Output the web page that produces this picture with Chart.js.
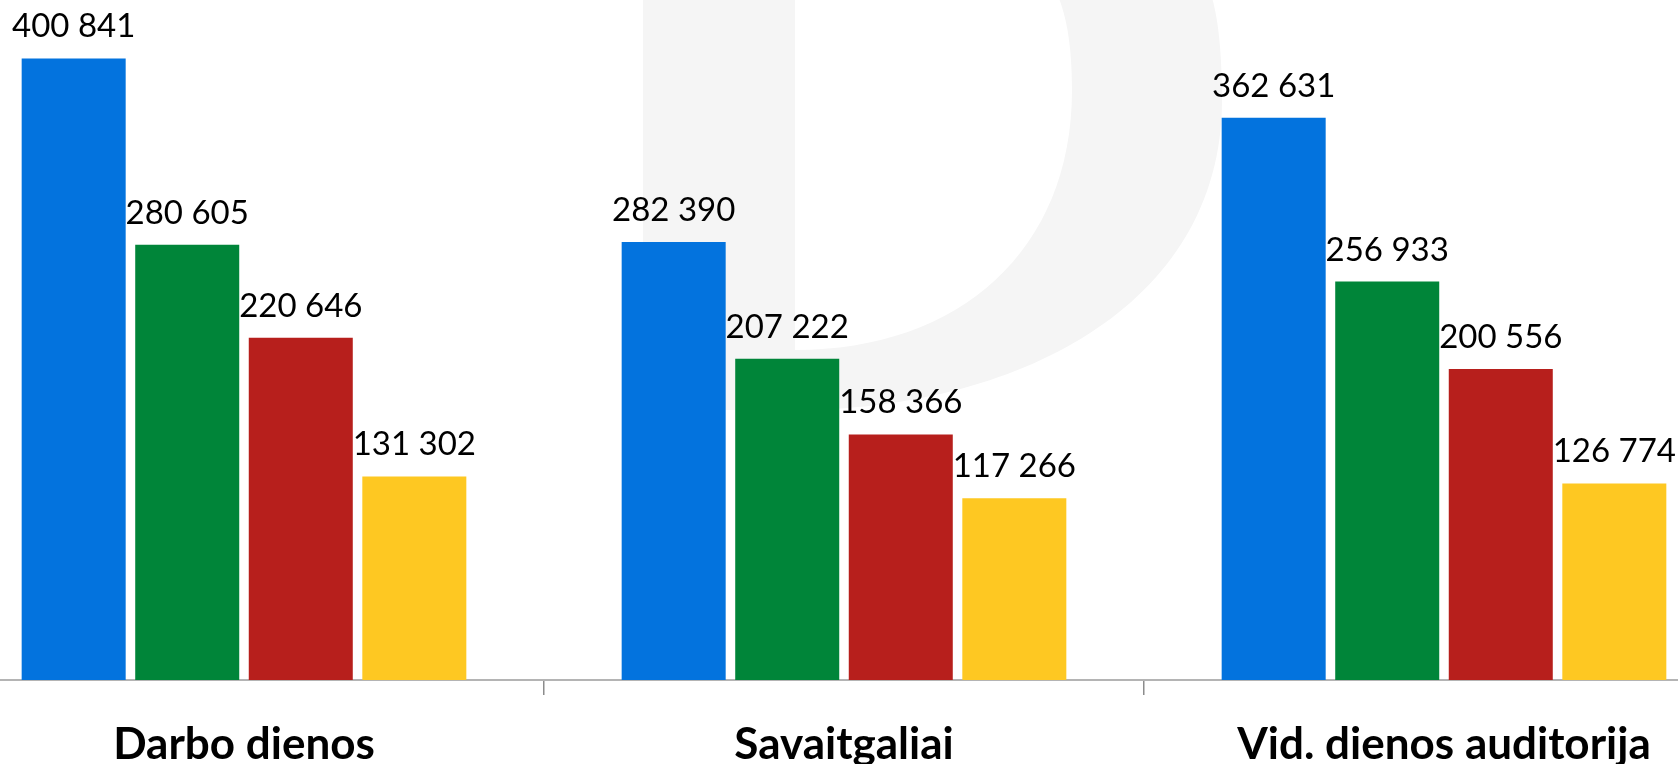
<!DOCTYPE html>
<html>
<head>
<meta charset="utf-8">
<title>Auditorija</title>
<script src="https://cdn.jsdelivr.net/npm/chart.js@4/dist/chart.umd.min.js"></script>
<style>
html, body { margin: 0; padding: 0; background: #fff; overflow: hidden; }
#wrap { position: absolute; left: -56px; top: 0; width: 1800px; height: 764px; }
</style>
</head>
<body>
<div id="wrap"><canvas id="chart"></canvas></div>
<script>
/* Categories and the four series. */

const categories = ['Darbo dienos', 'Savaitgaliai', 'Vid. dienos auditorija'];
const seriesBlue = [400841, 282390, 362631];
const seriesGreen = [280605, 207222, 256933];
const seriesRed = [220646, 158366, 200556];
const seriesYellow = [131302, 117266, 126774];
const seriesColours = ['#0373de', '#008539', '#b71f1c', '#fec822'];

/* Shift of the canvas against the page, see #wrap. */
const shiftX = 56;

function fmt(v)
{
	return String(v).replace(/\B(?=(\d{3})+(?!\d))/g, ' ');
}

/**
 * Faint "D" logo drawn behind the bars.
 */
const watermark = {
	id: 'watermark',
	beforeDatasetsDraw(chart) {
		const ctx = chart.ctx;
		ctx.save();
		ctx.translate(shiftX, 0);
		ctx.beginPath();
		/* Outer edge. */
		ctx.moveTo(643, -20);
		ctx.lineTo(643, 410);
		ctx.lineTo(795, 410);
		ctx.bezierCurveTo(1010, 410, 1222, 310, 1222, 100);
		ctx.bezierCurveTo(1222, 40, 1216, 0, 1205, -20);
		ctx.closePath();
		/* Counter. */
		ctx.moveTo(795, -20);
		ctx.lineTo(795, 350);
		ctx.bezierCurveTo(960, 350, 1072, 250, 1072, 90);
		ctx.bezierCurveTo(1072, 30, 1062, 0, 1050, -20);
		ctx.closePath();
		ctx.fillStyle = '#f5f5f5';
		ctx.fill('evenodd');
		ctx.restore();
	}
};

/**
 * Values written above each bar.
 */
const valueLabels = {
	id: 'valueLabels',
	afterDatasetsDraw(chart) {
		const ctx = chart.ctx;
		ctx.save();
		ctx.font = '33px Lato';
		ctx.fillStyle = '#000';
		ctx.textAlign = 'center';
		ctx.textBaseline = 'alphabetic';
		chart.data.datasets.forEach((ds, i) => {
			chart.getDatasetMeta(i).data.forEach((bar, j) => {
				ctx.fillText(fmt(ds.data[j]), bar.x, bar.y - 21);
			});
		});
		ctx.restore();
	}
};

const seriesData = [seriesBlue, seriesGreen, seriesRed, seriesYellow];

new Chart(document.getElementById('chart'), {
	type: 'bar',
	data: {
		labels: categories,
		datasets: seriesData.map((d, i) => ({
			label: 'series ' + (i + 1),
			data: d,
			backgroundColor: seriesColours[i],
			borderWidth: 0,
			categoryPercentage: 0.757,
			barPercentage: 0.916,
		})),
	},
	options: {
		responsive: true,
		maintainAspectRatio: false,
		animation: false,
		layout: { padding: 0 },
		plugins: {
			legend: { display: false },
			tooltip: { enabled: false },
		},
		scales: {
			x: {
				grid: {
					drawOnChartArea: false,
					drawTicks: true,
					tickLength: 15,
					color: '#8c8c8c',
					lineWidth: 1.5,
					offset: true,
				},
				border: {
					display: true,
					color: '#b4b4b4',
					width: 2,
				},
				ticks: {
					font: { family: 'Lato', weight: 'bold', size: 44 },
					color: '#000',
					padding: 23,
					maxRotation: 0,
					autoSkip: false,
				},
				afterFit: (scale) => { scale.height = 84; },
			},
			y: {
				display: false,
				min: 0,
				max: 438500,
			},
		},
	},
	plugins: [watermark, valueLabels],
});
</script>
</body>
</html>
